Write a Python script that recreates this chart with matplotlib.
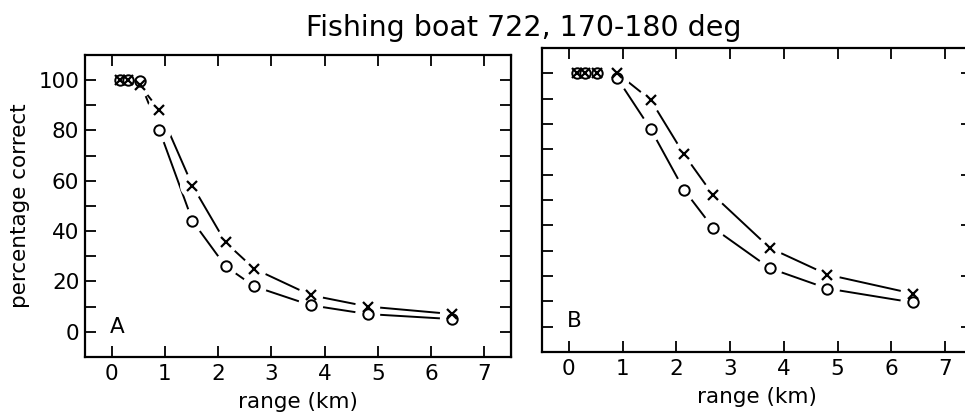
import matplotlib
matplotlib.use('Agg')
import matplotlib.pyplot as plt
from matplotlib.ticker import MultipleLocator

plt.rcParams['font.family'] = ['DejaVu Sans']

# data
range_km = [0.15, 0.3, 0.53, 0.9, 1.52, 2.14, 2.68, 3.74, 4.81, 6.4]
a_cross = [100, 100, 98, 88, 58, 35.5, 25, 14.5, 10, 7]
a_circle = [100, 100, 99.5, 80, 44, 26, 18, 10.5, 7, 5]
b_cross = [100, 100, 100, 100, 89.5, 68, 52, 31, 20.5, 13]
b_circle = [100, 100, 100, 98, 78, 54, 39, 23, 15, 9.5]
x_ticks = [0, 1, 2, 3, 4, 5, 6, 7]
y_labels = [0, 20, 40, 60, 80, 100]

fig = plt.figure(figsize=(9.65, 4.13), dpi=100)
ax_a = fig.add_axes([0.088, 0.136, 0.4415, 0.731])
ax_b = fig.add_axes([0.5617, 0.148, 0.4456, 0.736])


def draw_panel(ax, cross, circle, letter, right_step):
    ax.plot(range_km, cross, color='black', lw=1.4, zorder=1.5)
    ax.plot(range_km, circle, color='black', lw=1.4, zorder=1.5)
    # white halo so the lines stop short of the markers
    for ys in (cross, circle):
        ax.scatter(range_km, ys, s=18 ** 2, c='white', edgecolors='none',
                   zorder=3)
    ax.plot(range_km, circle, ls='none', marker='o', ms=7.5, mfc='white',
            mec='black', mew=1.4, zorder=4)
    ax.plot(range_km, cross, ls='none', marker='x', ms=6.5, mec='black',
            mew=1.6, zorder=5)

    ax.set_xlim(-0.5, 7.5)
    ax.set_ylim(-10, 110)
    ax.set_xticks(x_ticks)
    ax.yaxis.set_major_locator(MultipleLocator(10))
    ax.tick_params(direction='in', length=8, width=1.3, labelsize=15.5,
                   top=True, right=False, pad=5)
    for s in ax.spines.values():
        s.set_linewidth(1.6)
    ax.text(0.1, 2, letter, fontsize=15.5, ha='center', va='center',
            zorder=6)
    ax.set_xlabel('range (km)', fontsize=15.5, labelpad=6)

    # right side ticks
    ax_r = ax.secondary_yaxis('right')
    ax_r.yaxis.set_major_locator(MultipleLocator(right_step))
    ax_r.tick_params(direction='in', length=8, width=1.3, labelright=False)


draw_panel(ax_a, a_cross, a_circle, 'A', 10)
draw_panel(ax_b, b_cross, b_circle, 'B', 20)

ax_a.set_yticks(range(-10, 111, 10))
ax_a.set_yticklabels([str(v) if v in y_labels else '' for v in range(-10, 111, 10)])
ax_a.set_ylim(-10, 110)
ax_a.tick_params(axis='y', pad=4)
ax_b.set_yticklabels([])
ax_a.set_ylabel('percentage correct', fontsize=15.5, labelpad=6)

fig.text(0.5425, 0.932, 'Fishing boat 722, 170-180 deg', fontsize=20.5,
         ha='center', va='center')

fig.savefig('out.png', dpi=100)
